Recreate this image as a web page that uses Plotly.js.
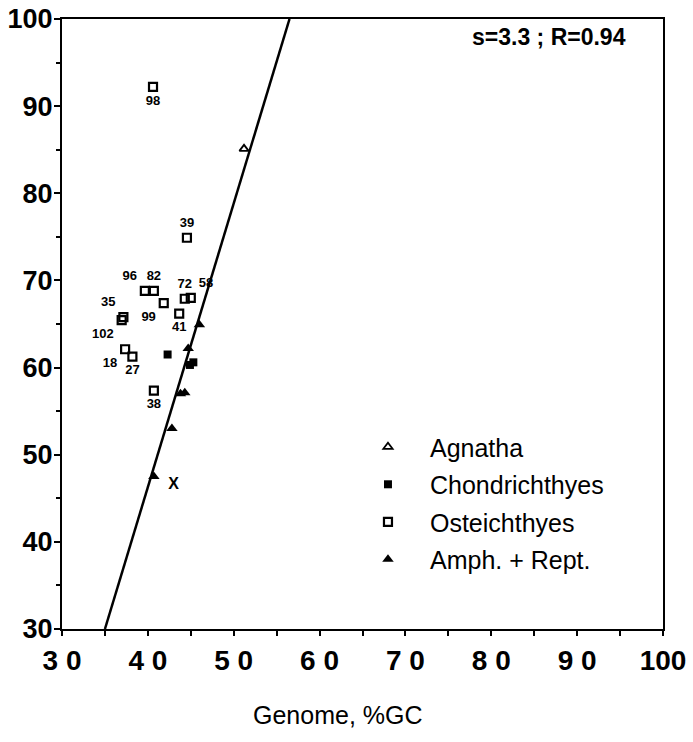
<!DOCTYPE html>
<html><head><meta charset="utf-8">
<script src="https://cdn.plot.ly/plotly-3.0.1.min.js"></script>
<style>body{margin:0;background:#fff}</style>
</head><body><div id="chart" style="width:693px;height:742px"></div>
<script>
// ---- data ----
const agnathaX = [51.2];
const agnathaY = [85.1];
const chondX = [42.3, 44.9, 45.3];
const chondY = [61.5, 60.3, 60.6];
const ostLabels = ['98','39','96','82','72','58','99','41','35','102','18','27','38'];
const ostX = [40.6, 44.55, 39.65, 40.7, 44.3, 45.0, 41.85, 43.65, 37.15, 36.95, 37.35, 38.2, 40.7];
const ostY = [92.2, 74.9, 68.8, 68.8, 67.9, 68.0, 67.4, 66.2, 65.8, 65.45, 62.1, 61.25, 57.35];
const amphX = [46.0, 44.7, 43.8, 44.3, 42.8, 40.7];
const amphY = [64.9, 62.2, 57.0, 57.1, 53.0, 47.5];
const outlierX = [43.0];
const outlierY = [46.5];
const outlierText = ['X'];
const fitX = [35, 56.5];
const fitY = [30, 100];
const xTickVals = [30, 40, 50, 60, 70, 80, 90, 100];
const xTickText = ['3 0', '4 0', '5 0', '6 0', '7 0', '8 0', '9 0', '100'];
const yTickVals = [30, 40, 50, 60, 70, 80, 90, 100];
const yTickText = ['30', '40', '50', '60', '70', '80', '90', '100'];
const statText = 's=3.3 ; R=0.94';
const xTitle = 'Genome, %GC';

// label placement (style)
const ostLabelPos = ['bottom center','top center','top left','top center','top center','top right',
  'bottom left','bottom center','top left','bottom left','bottom left','bottom center','bottom center'];

const F = 'Liberation Sans, Arial, sans-serif';

const traces = [
  {x: fitX, y: fitY, mode: 'lines', line: {color: '#000', width: 2.5}, showlegend: false, hoverinfo: 'skip'},
  {x: agnathaX, y: agnathaY, mode: 'markers', name: 'Agnatha', legendgroup: 'a',
   marker: {symbol: 'triangle-up-open', size: 8, color: '#000', line: {width: 1.8, color: '#000'}}},
  {x: chondX, y: chondY, mode: 'markers', name: 'Chondrichthyes', legendgroup: 'b',
   marker: {symbol: 'square', size: 8, color: '#000'}},
  {x: ostX, y: ostY, mode: 'markers', name: 'Osteichthyes', legendgroup: 'c',
   marker: {symbol: 'square-open', size: 8, color: '#000', line: {width: 2.2, color: '#000'}}},
  {x: amphX, y: amphY, mode: 'markers', name: 'Amph. + Rept.', legendgroup: 'd',
   marker: {symbol: 'triangle-up', size: 10, color: '#000'}},
  {x: ostX, y: ostY, mode: 'markers+text', text: ostLabels, textposition: ostLabelPos,
   marker: {size: 11, color: 'rgba(0,0,0,0)'},
   textfont: {family: F, size: 13, color: '#000', weight: 'bold'}, showlegend: false, hoverinfo: 'skip'},
  {x: outlierX, y: outlierY, mode: 'text', text: outlierText, textposition: 'middle center',
   textfont: {family: F, size: 16, color: '#000', weight: 'bold'}, showlegend: false, hoverinfo: 'skip'}
];

const axisCommon = {
  showline: true, linewidth: 2, linecolor: '#000', mirror: true,
  showgrid: false, zeroline: false, ticks: 'outside', tickcolor: '#000', tickwidth: 2,
};

const layout = {
  width: 693, height: 742,
  margin: {l: 62, r: 30, t: 19, b: 113},
  paper_bgcolor: '#fff', plot_bgcolor: '#fff',
  xaxis: Object.assign({}, axisCommon, {
    range: [30, 100], tickmode: 'array', tickvals: xTickVals, ticktext: xTickText,
    ticklen: 5, minor: {dtick: 5, ticks: 'outside', ticklen: 5, tickcolor: '#000', tickwidth: 2, showgrid: false},
    tickfont: {family: F, size: 28, color: '#000', weight: 'bold'}
  }),
  yaxis: Object.assign({}, axisCommon, {
    range: [30, 100], tickmode: 'array', tickvals: yTickVals, ticktext: yTickText,
    ticklen: 6, ticklabelstandoff: -4,
    minor: {dtick: 5, ticks: 'outside', ticklen: 4, tickcolor: '#000', tickwidth: 2, showgrid: false},
    tickfont: {family: F, size: 27, color: '#000', weight: 'bold'}
  }),
  legend: {x: 0.4725, y: 0.336, xanchor: 'left', yanchor: 'top', itemwidth: 74, tracegroupgap: 2,
    bgcolor: 'rgba(0,0,0,0)', font: {family: F, size: 25, color: '#000'}},
  annotations: [
    {text: statText, xref: 'paper', yref: 'paper', x: 0.942, y: 0.9705, xanchor: 'right', yanchor: 'middle',
     showarrow: false, font: {family: F, size: 23, color: '#000', weight: 'bold'}},
    {text: xTitle, xref: 'paper', yref: 'paper', x: 0.459, y: -0.141, xanchor: 'center', yanchor: 'middle',
     showarrow: false, font: {family: F, size: 25, color: '#000'}}
  ]
};

Plotly.newPlot('chart', traces, layout, {displayModeBar: false, staticPlot: true});
</script></body></html>
